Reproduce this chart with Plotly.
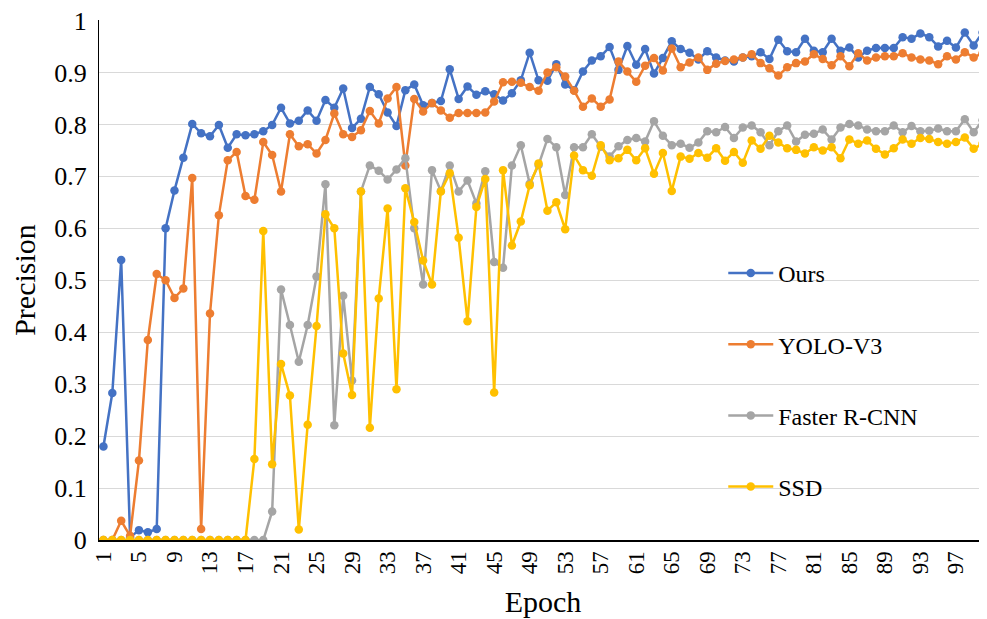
import plotly.graph_objects as go

epochs = list(range(1, 101))

ours = [0.18, 0.283, 0.539, 0.005, 0.019, 0.015, 0.021, 0.60, 0.673, 0.736,
        0.801, 0.783, 0.777, 0.799, 0.755, 0.781, 0.779, 0.781, 0.787, 0.799,
        0.832, 0.802, 0.807, 0.827, 0.807, 0.847, 0.832, 0.869, 0.793, 0.811,
        0.872, 0.858, 0.823, 0.797, 0.866, 0.877, 0.837, 0.841, 0.845, 0.906,
        0.849, 0.873, 0.857, 0.864, 0.858, 0.846, 0.860, 0.885, 0.938, 0.885,
        0.884, 0.916, 0.877, 0.866, 0.902, 0.923, 0.931, 0.949, 0.905, 0.951,
        0.915, 0.945, 0.898, 0.928, 0.960, 0.945, 0.938, 0.925, 0.941, 0.929,
        0.923, 0.921, 0.929, 0.931, 0.939, 0.926, 0.963, 0.941, 0.939, 0.965,
        0.942, 0.939, 0.965, 0.942, 0.948, 0.929, 0.942, 0.947, 0.947, 0.947,
        0.968, 0.965, 0.975, 0.968, 0.950, 0.961, 0.948, 0.977, 0.952, 0.977]

yolo = [0.0, 0.0, 0.037, 0.008, 0.153, 0.385, 0.512, 0.500, 0.466, 0.484,
        0.697, 0.021, 0.436, 0.625, 0.731, 0.747, 0.662, 0.655, 0.766, 0.741,
        0.671, 0.781, 0.758, 0.762, 0.744, 0.770, 0.821, 0.781, 0.776, 0.789,
        0.826, 0.802, 0.850, 0.872, 0.721, 0.849, 0.825, 0.841, 0.827, 0.813,
        0.822, 0.822, 0.822, 0.823, 0.844, 0.881, 0.882, 0.880, 0.872, 0.865,
        0.900, 0.910, 0.892, 0.865, 0.834, 0.850, 0.834, 0.848, 0.921, 0.902,
        0.882, 0.913, 0.928, 0.904, 0.946, 0.910, 0.919, 0.929, 0.905, 0.917,
        0.922, 0.925, 0.929, 0.935, 0.918, 0.908, 0.894, 0.910, 0.918, 0.921,
        0.935, 0.926, 0.914, 0.931, 0.912, 0.937, 0.923, 0.929, 0.931, 0.931,
        0.937, 0.929, 0.925, 0.923, 0.916, 0.931, 0.925, 0.939, 0.929, 0.937]

faster = [0.0, 0.0, 0.0, 0.0, 0.0, 0.0, 0.0, 0.0, 0.0, 0.0,
          0.0, 0.0, 0.0, 0.0, 0.0, 0.0, 0.0, 0.0, 0.0, 0.055,
          0.482, 0.414, 0.343, 0.414, 0.507, 0.685, 0.221, 0.470, 0.307, 0.671,
          0.721, 0.711, 0.694, 0.713, 0.735, 0.600, 0.492, 0.712, 0.672, 0.721,
          0.671, 0.692, 0.648, 0.710, 0.535, 0.524, 0.721, 0.760, 0.686, 0.722,
          0.772, 0.756, 0.664, 0.756, 0.756, 0.781, 0.757, 0.738, 0.758, 0.770,
          0.774, 0.767, 0.806, 0.778, 0.760, 0.763, 0.755, 0.765, 0.787, 0.785,
          0.795, 0.774, 0.794, 0.798, 0.785, 0.760, 0.787, 0.798, 0.767, 0.780,
          0.782, 0.790, 0.771, 0.794, 0.801, 0.798, 0.790, 0.787, 0.787, 0.798,
          0.785, 0.797, 0.787, 0.788, 0.792, 0.787, 0.787, 0.810, 0.785, 0.808]

ssd = [0.0, 0.0, 0.0, 0.0, 0.0, 0.0, 0.0, 0.0, 0.0, 0.0,
       0.0, 0.0, 0.0, 0.0, 0.0, 0.0, 0.0, 0.156, 0.595, 0.146,
       0.339, 0.278, 0.020, 0.222, 0.412, 0.627, 0.600, 0.359, 0.279, 0.671,
       0.216, 0.465, 0.638, 0.290, 0.677, 0.612, 0.538, 0.492, 0.671, 0.706,
       0.582, 0.421, 0.641, 0.695, 0.284, 0.712, 0.567, 0.613, 0.683, 0.725,
       0.634, 0.650, 0.598, 0.740, 0.712, 0.701, 0.760, 0.731, 0.735, 0.751,
       0.731, 0.754, 0.705, 0.745, 0.672, 0.738, 0.734, 0.745, 0.736, 0.754,
       0.730, 0.747, 0.726, 0.769, 0.753, 0.778, 0.765, 0.754, 0.751, 0.744,
       0.756, 0.750, 0.756, 0.735, 0.771, 0.763, 0.769, 0.753, 0.742, 0.754,
       0.771, 0.763, 0.774, 0.772, 0.766, 0.763, 0.766, 0.775, 0.753, 0.763]

series_names = ["Ours", "YOLO-V3", "Faster R-CNN", "SSD"]
series_values = [ours, yolo, faster, ssd]
series_colors = ["#4472C4", "#ED7D31", "#A5A5A5", "#FFC000"]

x_tick_vals = list(range(1, 101, 4))
x_tick_text = [str(v) for v in x_tick_vals]
y_tick_vals = [0, 0.1, 0.2, 0.3, 0.4, 0.5, 0.6, 0.7, 0.8, 0.9, 1]
y_tick_text = ["0", "0.1", "0.2", "0.3", "0.4", "0.5", "0.6", "0.7", "0.8", "0.9", "1"]

FONT = "Liberation Serif, Times New Roman, serif"

fig = go.Figure()
for name, vals, col in zip(series_names, series_values, series_colors):
    fig.add_trace(go.Scatter(
        x=epochs, y=vals, name=name, mode="lines+markers",
        line=dict(color=col, width=2.5),
        marker=dict(color=col, size=8.5),
        legendgroup=name,
    ))

# page body has an 8px default margin; size/margins compensate for it
fig.update_layout(
    width=979, height=611,
    margin=dict(l=91, r=0, t=12, b=79),
    paper_bgcolor="white", plot_bgcolor="white",
    font=dict(family=FONT, color="black"),
    showlegend=True,
    legend=dict(
        x=0.703, xanchor="left", y=0.556, yanchor="top",
        font=dict(family=FONT, size=24, color="black"),
        traceorder="grouped", tracegroupgap=37,
        itemwidth=45,
        bgcolor="rgba(0,0,0,0)",
    ),
    xaxis=dict(
        range=[0.5, 100.5],
        tickmode="array", tickvals=x_tick_vals, ticktext=x_tick_text,
        tickangle=-90, tickfont=dict(family=FONT, size=23, color="black"),
        showgrid=False, zeroline=False,
        showline=True, linecolor="black", linewidth=2,
        ticks="",
        title=dict(text="Epoch", font=dict(family=FONT, size=30, color="black"), standoff=18),
    ),
    yaxis=dict(
        range=[0, 1.001],
        tickmode="array", tickvals=y_tick_vals, ticktext=y_tick_text,
        tickfont=dict(family=FONT, size=26, color="black"),
        ticklabeloverflow="allow",
        showgrid=True, gridcolor="#D9D9D9", gridwidth=1,
        zeroline=False,
        showline=True, linecolor="black", linewidth=1,
        ticks="", ticklabelstandoff=6,
        title=dict(text="Precision", font=dict(family=FONT, size=30, color="black"), standoff=12),
    ),
)

fig.write_html("out.html")
